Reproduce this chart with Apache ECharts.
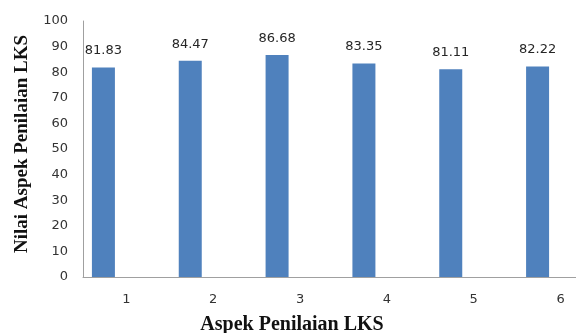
<!DOCTYPE html>
<html>
<head>
<meta charset="utf-8">
<script src="https://cdn.jsdelivr.net/npm/echarts@6/dist/echarts.min.js"></script>
<style>
  html, body { margin: 0; padding: 0; background: #fff; }
  #chart { width: 576px; height: 333px; }
</style>
</head>
<body>
<div id="chart"></div>
<script>
// Scores per assessment aspect of the LKS worksheet
const categories = ['1', '2', '3', '4', '5', '6'];
const scores = [81.83, 84.47, 86.68, 83.35, 81.11, 82.22];
const emptySeries = [null, null, null, null, null, null];
const yTicks = { min: 0, max: 100, interval: 10 };

const chart = echarts.init(document.getElementById('chart'));
const tickFont = { fontFamily: 'DejaVu Sans', fontSize: 13, color: '#333' };
const axisLine = { show: true, lineStyle: { color: '#a0a0a0', width: 1 } };

chart.setOption({
  animation: false,
  // plot area runs past the right edge of the canvas
  grid: {
    left: 83, top: 21, width: 521, bottom: 56,
    containLabel: false,
    outerBoundsMode: 'none'
  },
  xAxis: {
    type: 'category',
    data: categories,
    axisLine: axisLine,
    axisTick: { show: false },
    axisLabel: Object.assign({ margin: 16 }, tickFont),
    splitLine: { show: false }
  },
  yAxis: {
    type: 'value',
    min: yTicks.min,
    max: yTicks.max,
    interval: yTicks.interval,
    axisLine: axisLine,
    axisTick: { show: false },
    axisLabel: Object.assign({ margin: 15 }, tickFont),
    splitLine: { show: false }
  },
  series: [
    {
      name: 'Nilai',
      type: 'bar',
      data: scores,
      barWidth: 23,
      barGap: '100%',
      itemStyle: { color: '#4f81bd' },
      label: {
        show: true,
        position: 'top',
        distance: 10,
        fontFamily: 'DejaVu Sans',
        fontSize: 13,
        color: '#262626',
        formatter: p => p.value.toFixed(2)
      }
    },
    {
      name: 'Kosong',
      type: 'bar',
      data: emptySeries,
      barWidth: 23,
      silent: true
    }
  ],
  graphic: [
    {
      type: 'text',
      x: 22,
      y: 144,
      rotation: Math.PI / 2,
      style: {
        text: 'Nilai Aspek Penilaian LKS',
        font: 'bold 19px "Liberation Serif"',
        fill: '#111',
        textAlign: 'center',
        textVerticalAlign: 'middle'
      }
    },
    {
      type: 'text',
      x: 292,
      y: 325,
      style: {
        text: 'Aspek Penilaian LKS',
        font: 'bold 20px "Liberation Serif"',
        fill: '#111',
        textAlign: 'center',
        textVerticalAlign: 'middle'
      }
    }
  ]
});
</script>
</body>
</html>
